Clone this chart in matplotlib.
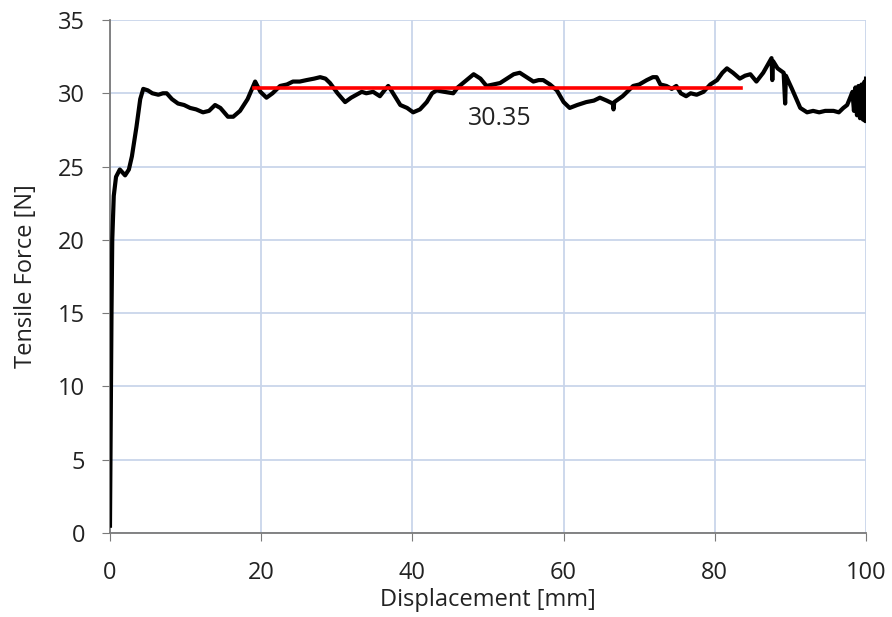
import numpy as np
import matplotlib.pyplot as plt

plt.rcParams['font.family'] = ['Open Sans', 'DejaVu Sans']

curve = [
    (0.0, 0.5), (0.1, 8.0), (0.2, 15.0), (0.3, 20.0), (0.5, 23.0), (0.8, 24.3),
    (1.3, 24.8), (2.0, 24.4), (2.5, 24.8), (2.9, 25.7), (3.5, 27.7), (4.0, 29.6),
    (4.4, 30.3), (5.0, 30.2), (5.6, 30.0), (6.4, 29.9), (7.0, 30.0), (7.5, 30.0),
    (8.2, 29.6), (9.0, 29.3), (9.8, 29.2), (10.6, 29.0), (11.4, 28.9), (12.3, 28.7),
    (13.1, 28.8), (13.9, 29.2), (14.6, 29.0), (15.6, 28.4), (16.3, 28.4), (17.2, 28.8),
    (18.2, 29.6), (19.2, 30.8), (19.9, 30.1), (20.7, 29.7), (21.5, 30.0), (22.5, 30.5),
    (23.4, 30.6), (24.2, 30.8), (25.1, 30.8), (26.0, 30.9), (27.0, 31.0), (27.8, 31.1),
    (28.5, 31.0), (29.1, 30.7), (30.1, 30.0), (31.1, 29.4), (31.9, 29.7), (32.6, 29.9),
    (33.3, 30.1), (33.9, 30.0), (34.8, 30.1), (35.7, 29.8), (36.3, 30.2), (36.8, 30.5),
    (37.2, 30.2), (38.4, 29.2), (39.3, 29.0), (40.1, 28.7), (41.0, 28.9), (41.9, 29.4),
    (42.6, 30.0), (43.2, 30.2), (44.2, 30.1), (45.4, 30.0), (46.0, 30.4), (46.7, 30.7),
    (47.4, 31.0), (48.1, 31.3), (49.0, 31.0), (49.8, 30.5), (50.7, 30.6), (51.6, 30.7),
    (52.5, 31.0), (53.4, 31.3), (54.2, 31.4), (55.1, 31.1), (56.0, 30.8), (56.7, 30.9),
    (57.3, 30.9), (58.2, 30.6), (59.1, 30.2), (60.0, 29.4), (60.8, 29.0), (61.8, 29.2),
    (63.0, 29.4), (64.0, 29.5), (64.8, 29.7), (65.7, 29.5), (66.5, 29.3), (66.6, 28.9),
    (66.7, 29.4), (67.8, 29.8), (69.2, 30.5), (70.0, 30.6), (71.0, 30.9), (71.8, 31.1),
    (72.3, 31.1), (72.8, 30.6), (73.6, 30.5), (74.3, 30.3), (74.9, 30.5), (75.5, 30.0),
    (76.2, 29.8), (76.8, 30.0), (77.6, 29.9), (78.5, 30.1), (79.4, 30.6), (80.3, 30.9),
    (81.0, 31.4), (81.6, 31.7), (82.4, 31.4), (83.3, 31.0), (84.0, 31.2), (84.7, 31.3),
    (85.5, 30.8), (86.4, 31.4), (87.5, 32.4), (87.6, 30.9), (87.7, 32.2), (88.3, 31.7),
    (89.1, 31.4), (89.3, 29.3), (89.4, 31.2), (90.2, 30.3), (91.3, 29.0), (92.2, 28.7),
    (93.0, 28.8), (93.8, 28.7), (94.6, 28.8), (95.7, 28.8), (96.4, 28.7), (97.0, 29.0),
    (97.5, 29.2), (97.9, 29.7), (98.2, 30.1), (98.4, 28.8), (98.6, 30.4), (98.8, 28.5),
    (99.0, 30.5), (99.2, 28.3), (99.4, 30.6), (99.6, 28.2), (99.8, 30.8), (99.9, 28.1),
    (100.0, 31.0),
]
disp = [p[0] for p in curve]
force = [p[1] for p in curve]

mean_x = [19.0, 83.5]
mean_y = [30.35, 30.35]
mean_label = '30.35'

fig = plt.figure(figsize=(8.92, 6.17), dpi=100)
ax = fig.add_axes([0.1233, 0.1361, 0.8476, 0.8315])

ax.plot(disp, force, color='black', lw=3.0, solid_joinstyle='round', zorder=3)
ax.plot(mean_x, mean_y, color='#ff0000', lw=2.6, zorder=4)
ax.text(51.6, 28.3, mean_label, ha='center', va='center', fontsize=18, color='#222222')

ax.set_xlim(0, 100)
ax.set_ylim(0, 35)
ax.set_xticks(np.arange(0, 101, 20))
ax.set_yticks(np.arange(0, 36, 5))
ax.grid(True, color='#c9d5ea', lw=1.3, zorder=0)
ax.set_axisbelow(True)
for s in ['top', 'right']:
    ax.spines[s].set_visible(False)
for s in ['left', 'bottom']:
    ax.spines[s].set_color('#7a7a7a')
    ax.spines[s].set_linewidth(1.3)
ax.tick_params(direction='out', length=6, color='#7a7a7a', labelsize=17,
               labelcolor='#222222')
ax.tick_params(axis='y', pad=12)
ax.tick_params(axis='x', pad=14)
ax.set_xlabel('Displacement [mm]', fontsize=17, color='#222222', labelpad=2)
ax.set_ylabel('Tensile Force [N]', fontsize=17, color='#222222', labelpad=14)

fig.savefig('out.png', dpi=100)
